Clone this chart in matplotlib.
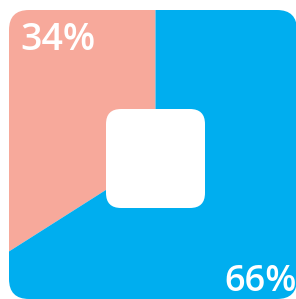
import matplotlib
matplotlib.use("Agg")
import matplotlib.pyplot as plt
from matplotlib.patches import FancyBboxPatch

# share of each slice (percent)
labels = ["34%", "66%"]
shares = [34, 66]
colors = ["#F7A99B", "#00AEEF"]

W, H = 296, 299

fig = plt.figure(figsize=(W / 100, H / 100), dpi=100)
ax = fig.add_axes([0, 0, 1, 1])

# pie centred on the inner square, big enough to fill the tile
wedges, _ = ax.pie(
    shares,
    colors=colors,
    startangle=90,
    counterclock=True,
    center=(155.5, H - 158.5),
    radius=320,
    wedgeprops=dict(linewidth=0),
)

ax.set_xlim(0, W)
ax.set_ylim(0, H)
ax.set_aspect("auto")
ax.axis("off")

# clip the pie to a rounded tile
tile = FancyBboxPatch(
    (9, 0), 288, 289,
    boxstyle="round,pad=0,rounding_size=20",
    facecolor="none",
    edgecolor="none",
)
ax.add_patch(tile)
for w in wedges:
    w.set_clip_on(True)
    w.set_clip_path(tile)

# white rounded square in the middle
hole = FancyBboxPatch(
    (106, H - 208), 99, 99,
    boxstyle="round,pad=0,rounding_size=15",
    facecolor="white",
    edgecolor="none",
    zorder=3,
)
ax.add_patch(hole)

ax.text(20, H - 50, labels[0], color="white", fontsize=27,
        fontfamily="Open Sans", fontweight="semibold",
        ha="left", va="baseline", zorder=4)
ax.text(224, H - 291, labels[1], color="white", fontsize=26,
        fontfamily="Open Sans", fontweight="semibold",
        ha="left", va="baseline", zorder=4)

fig.savefig("out.png", dpi=100)
plt.close(fig)
